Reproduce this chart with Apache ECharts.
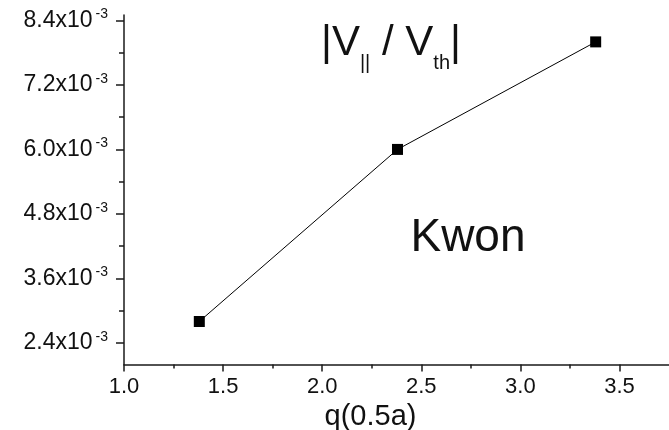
<!DOCTYPE html>
<html>
<head>
<meta charset="utf-8">
<script src="https://cdn.jsdelivr.net/npm/echarts@6/dist/echarts.min.js"></script>
<style>
html,body{margin:0;padding:0;background:#fff;overflow:hidden;}
#chart{width:669px;height:430px;}
</style>
</head>
<body>
<div id="chart"></div>
<script>
const qValues = [1.38, 2.38, 3.38];
const vRatio = [2.80e-3, 6.00e-3, 8.00e-3];
const yMajorTicks = [2.4e-3, 3.6e-3, 4.8e-3, 6.0e-3, 7.2e-3, 8.4e-3];
const yMinorTicks = [3.0e-3, 4.2e-3, 5.4e-3, 6.6e-3, 7.8e-3];
const xMajorTicks = [1.0, 1.5, 2.0, 2.5, 3.0, 3.5];
const xMinorTicks = [1.25, 1.75, 2.25, 2.75, 3.25];
const xTitle = 'q(0.5a)';
const plotLabel = 'Kwon';

const FONT = '"Liberation Sans", Arial, sans-serif';
const chart = echarts.init(document.getElementById('chart'));

const axisLineStyle = {color: '#1a1a1a', width: 1.5};

chart.setOption({
  animation: false,
  backgroundColor: '#fff',
  grid: {left: 124, right: 0, top: 15, bottom: 65.5, containLabel: false, outerBoundsMode: 'none'},
  xAxis: [
    {
      type: 'value', min: 1.0, max: 3.75,
      axisLine: {show: true, onZero: false, lineStyle: axisLineStyle},
      axisTick: {show: true, customValues: xMajorTicks, length: 7, inside: false, lineStyle: axisLineStyle},
      axisLabel: {show: true, customValues: xMajorTicks, margin: 11, color: '#111', fontSize: 22, fontFamily: FONT,
        formatter: v => v.toFixed(1)},
      splitLine: {show: false},
      name: xTitle, nameLocation: 'middle', nameGap: 36,
      nameTextStyle: {fontSize: 29, color: '#111', fontFamily: FONT, padding: [0, 52, 0, 0]}
    },
    {
      type: 'value', min: 1.0, max: 3.75, position: 'bottom',
      axisLine: {show: false},
      axisTick: {show: true, customValues: xMinorTicks, length: 4, inside: false, lineStyle: axisLineStyle},
      axisLabel: {show: false},
      splitLine: {show: false}
    }
  ],
  yAxis: [
    {
      type: 'value', min: 2.0e-3, max: 8.5e-3,
      axisLine: {show: true, onZero: false, lineStyle: axisLineStyle},
      axisTick: {show: true, customValues: yMajorTicks, length: 8, inside: false, lineStyle: axisLineStyle},
      axisLabel: {
        show: true, customValues: yMajorTicks, margin: 16, color: '#111', fontFamily: FONT,
        formatter: v => '{a|' + (v * 1000).toFixed(1) + 'x10}{b|-3}',
        rich: {
          a: {fontSize: 23, lineHeight: 26, fontFamily: FONT, color: '#111'},
          b: {fontSize: 14, lineHeight: 14, verticalAlign: 'top', padding: [0, 0, 0, 3], fontFamily: FONT, color: '#111'}
        }
      },
      splitLine: {show: false}
    },
    {
      type: 'value', min: 2.0e-3, max: 8.5e-3, position: 'left',
      axisLine: {show: false},
      axisTick: {show: true, customValues: yMinorTicks, length: 5, inside: false, lineStyle: axisLineStyle},
      axisLabel: {show: false},
      splitLine: {show: false}
    }
  ],
  series: [{
    type: 'line',
    data: qValues.map((q, i) => [q, vRatio[i]]),
    xAxisIndex: 0, yAxisIndex: 0,
    symbol: 'rect', symbolSize: 11,
    showSymbol: true,
    lineStyle: {color: '#000', width: 1},
    itemStyle: {color: '#000'},
    z: 3
  }],
  graphic: [
    {
      type: 'text', left: 321, top: 22,
      style: {
        text: '{a||V}{s|||}{a| / V}{s|th}{a||}',
        rich: {
          a: {fontSize: 42, lineHeight: 60, fontFamily: FONT, fill: '#111'},
          s: {fontSize: 20, lineHeight: 20, verticalAlign: 'bottom', fontFamily: FONT, fill: '#111'}
        }
      }
    },
    {
      type: 'text', x: 468, y: 238,
      style: {text: plotLabel, fontSize: 46, fontFamily: FONT, fill: '#111', align: 'center', verticalAlign: 'middle'}
    }
  ]
});
</script>
</body>
</html>
